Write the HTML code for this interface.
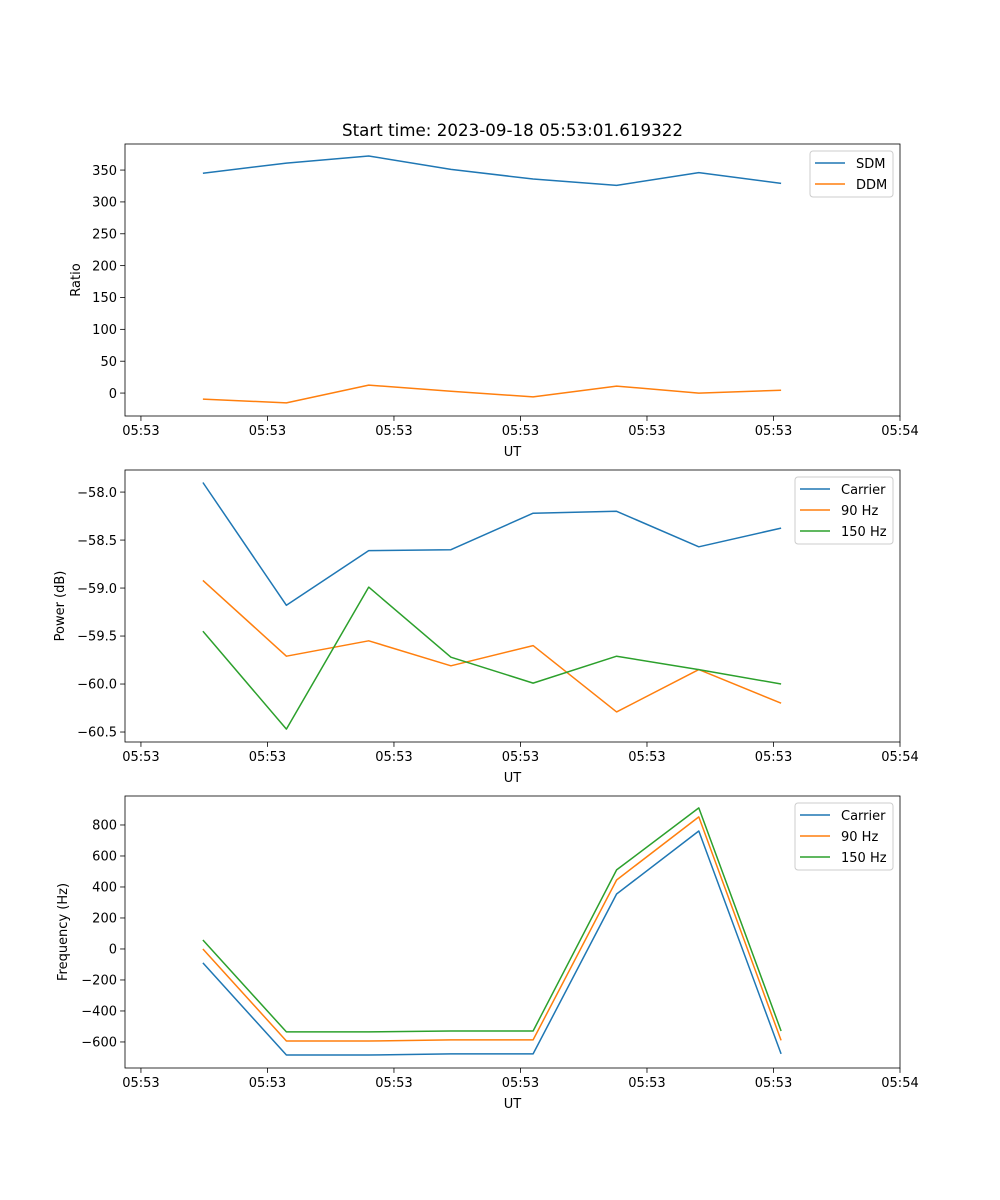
<!DOCTYPE html>
<html><head><meta charset="utf-8">
<style>
html,body{margin:0;padding:0;background:#fff;}
svg{display:block;font-family:"DejaVu Sans","Liberation Sans",sans-serif;}
</style></head>
<body>
<svg id="fig" width="1000" height="1200" viewBox="0 0 1000 1200"></svg>
<script>
// time in seconds relative to 05:53:00
const times = [4.9, 11.5, 18.0, 24.5, 31.0, 37.6, 44.1, 50.6];
const xTickVals = [0, 10, 20, 30, 40, 50, 60];
const xTickLabels = ["05:53","05:53","05:53","05:53","05:53","05:53","05:54"];

const sdm = [345, 361, 372, 351, 336, 326, 346, 329];
const ddm = [-9.5, -15.5, 12.5, 3, -6, 11, 0, 4.5];
const ratioTicks = [0, 50, 100, 150, 200, 250, 300, 350];

const powCarrier = [-57.90, -59.18, -58.61, -58.60, -58.22, -58.20, -58.57, -58.375];
const pow90 = [-58.92, -59.71, -59.55, -59.81, -59.60, -60.29, -59.85, -60.20];
const pow150 = [-59.45, -60.47, -58.99, -59.72, -59.99, -59.71, -59.85, -60.0];
const powTicks = [-60.5, -60.0, -59.5, -59.0, -58.5, -58.0];

const freqCarrier = [-90, -684, -684, -677, -677, 355, 761, -677];
const freq90 = [0, -594, -594, -587, -587, 445, 852, -590];
const freq150 = [58, -535, -535, -529, -529, 510, 910, -529];
const freqTicks = [-600, -400, -200, 0, 200, 400, 600, 800];

const C1="#1f77b4", C2="#ff7f0e", C3="#2ca02c";
const NS="http://www.w3.org/2000/svg";
const svg=document.getElementById('fig');
function mk(tag, attrs, parent){const e=document.createElementNS(NS,tag);for(const k in attrs)e.setAttribute(k,attrs[k]);(parent||svg).appendChild(e);return e;}

const L=125,R=900,XMIN=-1.26,XMAX=60;
function xs(t){return L+(t-XMIN)/(XMAX-XMIN)*(R-L);}

function panel(name, top, bottom, ymin, ymax, yticks, fmt, ylabel, series, legend){
  const g=mk('g',{});
  
  
  const ys=v=>bottom-(v-ymin)/(ymax-ymin)*(bottom-top);
  series.forEach(s=>{
    const p=mk('polyline',{points:s.vals.map((v,i)=>xs(times[i]).toFixed(1)+','+ys(v).toFixed(1)).join(' '),fill:'none',stroke:s.color,'stroke-width':1.5,'stroke-linejoin':'round'},g);
    
    
  });
  const fr=mk('rect',{x:L,y:top,width:R-L,height:bottom-top,fill:'none',stroke:'#000','stroke-width':0.8},g);
  
  
  xTickVals.forEach((t,i)=>{
    const x=xs(t);
    mk('line',{x1:x,x2:x,y1:bottom,y2:bottom+4.9,stroke:'#000','stroke-width':0.8},g);
    const tx=mk('text',{x:x,y:bottom+19,'font-size':13,'text-anchor':'middle',fill:'#000'},g);
    tx.textContent=xTickLabels[i];
    
    
  });
  const xl=mk('text',{x:(L+R)/2,y:bottom+40,'font-size':13,'text-anchor':'middle'},g);
  xl.textContent='UT';
  
  
  yticks.forEach(v=>{
    const y=ys(v);
    mk('line',{x1:L-4.9,x2:L,y1:y,y2:y,stroke:'#000','stroke-width':0.8},g);
    const tx=mk('text',{x:L-8,y:y+4.7,'font-size':13,'text-anchor':'end'},g);
    tx.textContent=fmt(v);
    
    
  });
  const yl=mk('text',{x:0,y:0,'font-size':13,'text-anchor':'middle',transform:`translate(${legend.ylx},${(top+bottom)/2}) rotate(-90)`},g);
  yl.textContent=ylabel;
  
  
  const lg=mk('g',{},g);
  
  
  const n=series.length;
  mk('rect',{x:legend.x,y:top+7,width:893-legend.x,height:n*21+4,rx:3,fill:'#fff','fill-opacity':0.8,stroke:'#ccc','stroke-width':1},lg);
  series.forEach((s,i)=>{
    const y=top+19+i*21;
    mk('line',{x1:legend.x+5,x2:legend.x+35,y1:y,y2:y,stroke:s.color,'stroke-width':1.5},lg);
    const t=mk('text',{x:legend.x+46,y:y+5,'font-size':13},lg);
    t.textContent=s.label;
    
    
  });
}

const title=mk('text',{x:512.5,y:136,'font-size':16.7,'text-anchor':'middle'});
title.textContent='Start time: 2023-09-18 05:53:01.619322';



panel('ratio-panel',144,416,-36,390.9,ratioTicks,v=>String(v),'Ratio',
  [{key:'sdm',vals:sdm,color:C1,label:'SDM'},{key:'ddm',vals:ddm,color:C2,label:'DDM'}],{x:810,ylx:80});
panel('power-panel',470,742,-60.604,-57.77,powTicks,v=>v.toFixed(1).replace('-','\u2212'),'Power (dB)',
  [{key:'carrier',vals:powCarrier,color:C1,label:'Carrier'},{key:'90hz',vals:pow90,color:C2,label:'90 Hz'},{key:'150hz',vals:pow150,color:C3,label:'150 Hz'}],{x:795,ylx:64});
panel('frequency-panel',796,1068,-768,987,freqTicks,v=>String(v).replace('-','\u2212'),'Frequency (Hz)',
  [{key:'carrier',vals:freqCarrier,color:C1,label:'Carrier'},{key:'90hz',vals:freq90,color:C2,label:'90 Hz'},{key:'150hz',vals:freq150,color:C3,label:'150 Hz'}],{x:795,ylx:67});
</script>
</body></html>
